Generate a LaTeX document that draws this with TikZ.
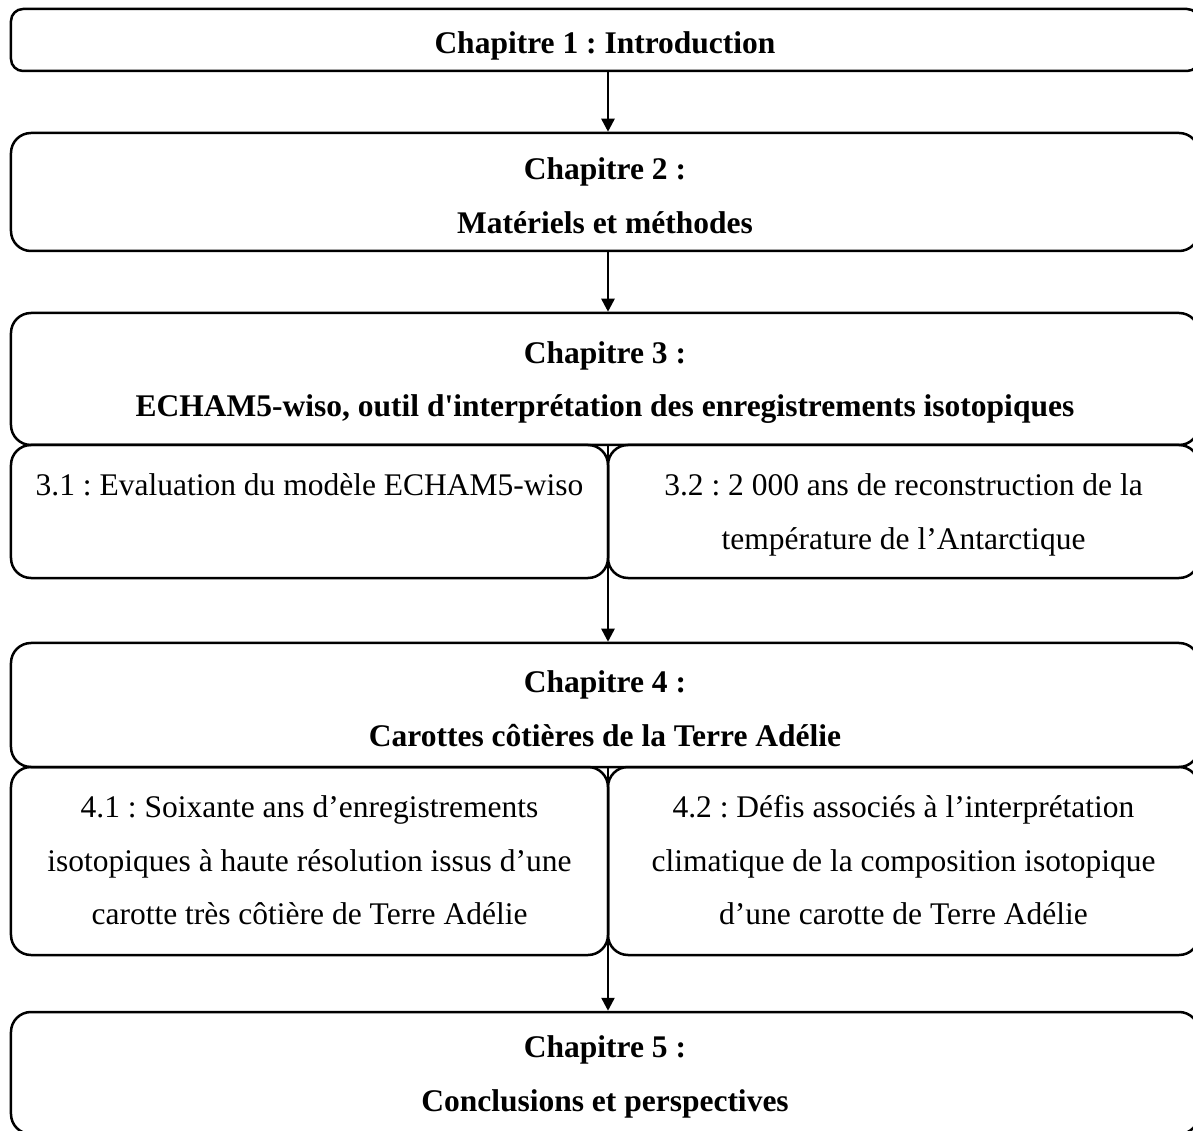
\documentclass[tikz,border=0pt]{standalone}
\usepackage{fontspec}
\setmainfont{Liberation Serif}
\usetikzlibrary{arrows.meta,positioning}

\tikzset{
  every node/.style={font=\fontsize{12.6}{21.4}\selectfont\frenchspacing},
  chapbox/.style={draw, line width=1pt, rounded corners=8pt, inner sep=0pt, minimum width=475.2pt},
  chaptext/.style={align=center, inner sep=0pt, yshift=-1.5pt,
    font=\fontsize{12.6}{21.4}\selectfont\frenchspacing\bfseries},
  secbox/.style={draw, line width=1pt, rounded corners=8pt, inner sep=0pt},
  sectext/.style={align=center, inner sep=0pt},
  arr/.style={-{Triangle[length=5.2pt,width=5.2pt]}, line width=1pt},
}

\begin{document}
\begin{tikzpicture}[x=0.4pt,y=-0.4pt]
  \useasboundingbox (0,0) rectangle (1193,1131);
  \clip (0,0) rectangle (1193,1131);
  \coordinate (split) at (608,0);

  % chapitres
  \node[chapbox, rounded corners=4.8pt, minimum height=24.8pt] (ch1) at (605,40) {};
  \node[chapbox, minimum height=47.2pt] (ch2) at (605,192) {};
  \node[chapbox, minimum height=52.8pt] (ch3) at (605,379) {};
  \node[chapbox, minimum height=49.6pt] (ch4) at (605,705) {};
  \node[chapbox, minimum height=48.8pt] (ch5) at (605,1073) {};

  \node[chaptext, yshift=-1pt] (t1) at (ch1.center) {Chapitre 1 : Introduction};
  \node[chaptext] (t2) at (ch2.center) {Chapitre 2 :\\Matériels et méthodes};
  \node[chaptext] (t3) at (ch3.center) {Chapitre 3 :\\ECHAM5-wiso, outil d\textquotesingle interprétation des enregistrements isotopiques};
  \node[chaptext] (t4) at (ch4.center) {Chapitre 4 :\\Carottes côtières de la Terre Adélie};
  \node[chaptext] (t5) at (ch5.center) {Chapitre 5 :\\Conclusions et perspectives};

  % sections
  \node[secbox, minimum width=238.8pt, minimum height=53.2pt] (s31) at (309.5,511.5) {};
  \node[secbox, minimum width=236.4pt, minimum height=53.2pt] (s32) at (903.5,511.5) {};
  \node[secbox, minimum width=238.8pt, minimum height=75.2pt] (s41) at (309.5,861) {};
  \node[secbox, minimum width=236.4pt, minimum height=75.2pt] (s42) at (903.5,861) {};

  \node[sectext, below=11.8pt of s31.north] (t31) {3.1 : Evaluation du modèle ECHAM5-wiso};
  \node[sectext, below=11.8pt of s32.north] (t32) {3.2 : 2~000 ans de reconstruction de la\\température de l’Antarctique};
  \node[sectext, below=11.8pt of s41.north] (t41) {4.1 : Soixante ans d’enregistrements\\isotopiques à haute résolution issus d’une\\carotte très côtière de Terre Adélie};
  \node[sectext, below=11.8pt of s42.north] (t42) {4.2 : Défis associés à l’interprétation\\climatique de la composition isotopique\\d’une carotte de Terre Adélie};

  % fleches
  \draw[arr] (ch1.south -| split) -- (ch2.north -| split);
  \draw[arr] (ch2.south -| split) -- (ch3.north -| split);
  \draw[arr] (ch3.south -| split) -- (ch4.north -| split);
  \draw[arr] (ch4.south -| split) -- (ch5.north -| split);
\end{tikzpicture}
\end{document}
